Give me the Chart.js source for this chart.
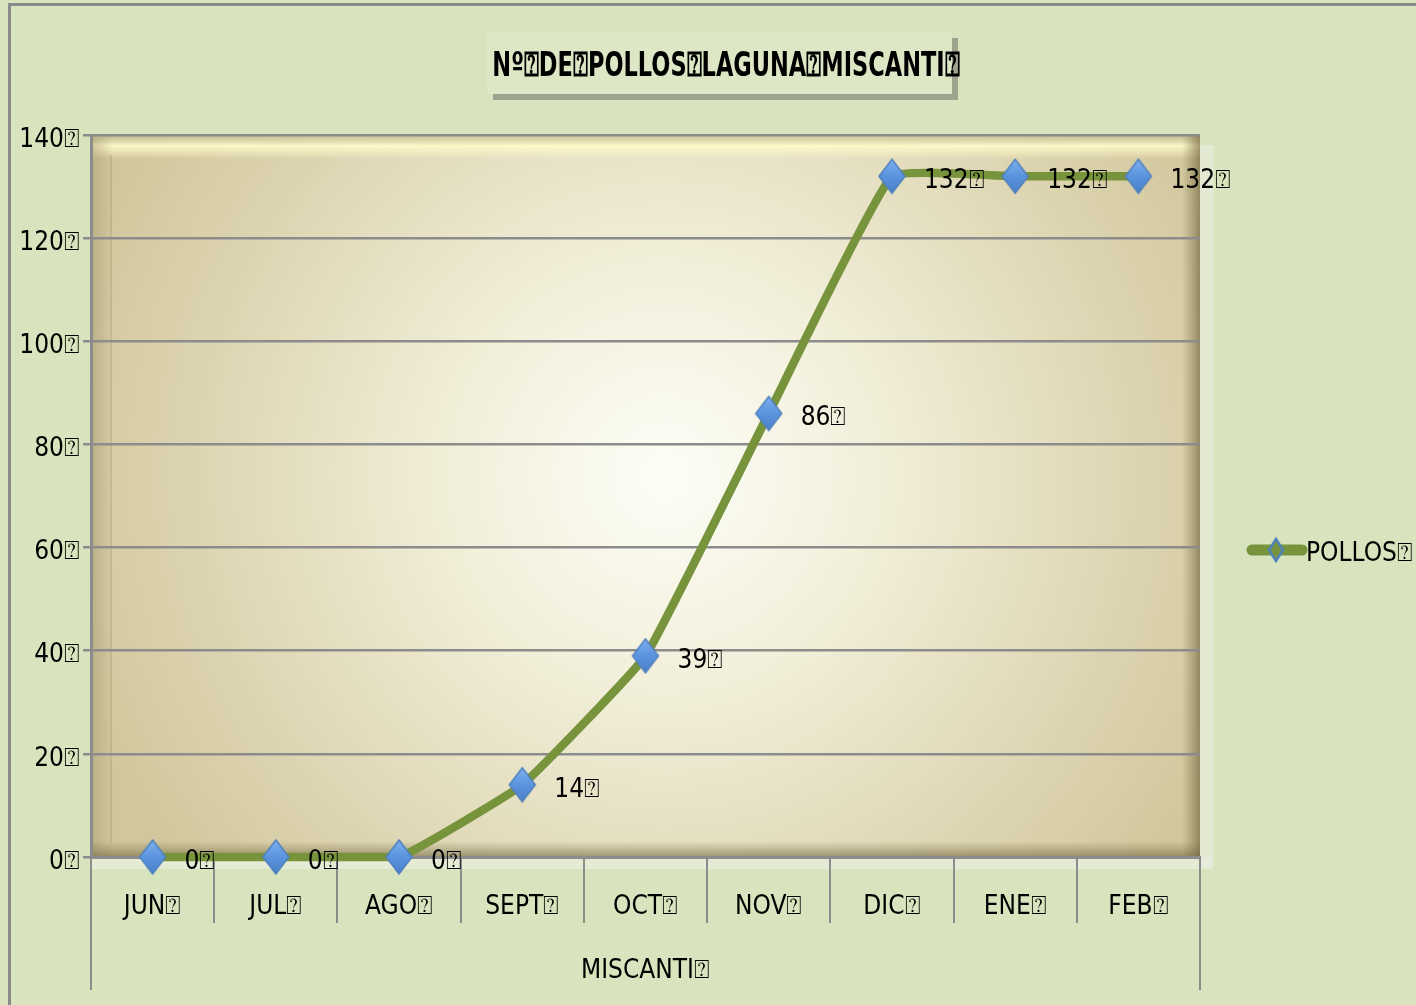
<!DOCTYPE html>
<html>
<head>
<meta charset="utf-8">
<script src="https://cdn.jsdelivr.net/npm/chart.js@4.4.0/dist/chart.umd.min.js"></script>
<style>
  html,body{margin:0;padding:0;background:#d8e4bd;}
  #wrap{width:1416px;height:1005px;position:relative;}
</style>
</head>
<body>
<div id="wrap"><canvas id="c" width="1416" height="1005"></canvas></div>
<script>
const Q = '\u2370';
const categories = ['JUN', 'JUL', 'AGO', 'SEPT', 'OCT', 'NOV', 'DIC', 'ENE', 'FEB'];
const pollos = [0, 0, 0, 14, 39, 86, 132, 132, 132];
const seriesName = 'POLLOS';
const groupLabel = 'MISCANTI';
const chartTitle = ['Nº', 'DE', 'POLLOS', 'LAGUNA', 'MISCANTI', ''];
const yMin = 0, yMax = 140, yStep = 20;

const FONT = '"DejaVu Sans Condensed", "Liberation Sans Narrow", "Open Sans", sans-serif';
const FS = 26;
const BG = '#d8e4bd';
const LINE = '#77933c';
const GRID = '#8c8c8c';

function stretchedText(ctx, text, x, y, sy) {
  ctx.save();
  ctx.translate(x, y);
  ctx.scale(1, sy);
  ctx.fillText(text, 0, 0);
  ctx.restore();
}

// diamond marker image (taller than wide)
function makeDiamond() {
  const w = 30, h = 38;
  const c = document.createElement('canvas');
  c.width = w; c.height = h;
  const g = c.getContext('2d');
  g.beginPath();
  g.moveTo(w/2, 2); g.lineTo(w-2, h/2); g.lineTo(w/2, h-2); g.lineTo(2, h/2); g.closePath();
  const gr = g.createLinearGradient(0, 2, 0, h-2);
  gr.addColorStop(0, '#7fb0ef');
  gr.addColorStop(0.5, '#5b94de');
  gr.addColorStop(1, '#4a7fc8');
  g.fillStyle = gr; g.fill();
  g.strokeStyle = '#4f81bd'; g.lineWidth = 1.5; g.stroke();
  return c;
}
const diamond = makeDiamond();

const bgPlugin = {
  id: 'bg',
  beforeDraw(chart) {
    const ctx = chart.ctx, a = chart.chartArea;
    ctx.save();
    ctx.fillStyle = BG; ctx.fillRect(0, 0, chart.width, chart.height);
    // outer frame
    ctx.strokeStyle = '#8a8a8a'; ctx.lineWidth = 3;
    ctx.beginPath(); ctx.moveTo(9.5, chart.height); ctx.lineTo(9.5, 4.5); ctx.lineTo(chart.width, 4.5); ctx.stroke();
    // plot area radial gradient
    const cx = (a.left + a.right) / 2 + 20, cy = (a.top + a.bottom) / 2 - 20;
    const rg = ctx.createRadialGradient(cx, cy, 10, cx, cy, 620);
    rg.addColorStop(0, '#fdfdf6');
    rg.addColorStop(0.35, '#f1eed8');
    rg.addColorStop(0.75, '#ddd5b2');
    rg.addColorStop(1, '#d2c79c');
    ctx.fillStyle = rg;
    ctx.fillRect(a.left, a.top, a.right - a.left, a.bottom - a.top);
    // bevel: top light band
    let lg = ctx.createLinearGradient(0, a.top, 0, a.top + 24);
    lg.addColorStop(0, 'rgba(190,180,140,0.6)');
    lg.addColorStop(0.45, 'rgba(255,250,200,0.95)');
    lg.addColorStop(1, 'rgba(255,250,200,0)');
    ctx.fillStyle = lg; ctx.fillRect(a.left, a.top, a.right - a.left, 24);
    // left dark band
    lg = ctx.createLinearGradient(a.left, 0, a.left + 22, 0);
    lg.addColorStop(0, 'rgba(160,150,110,0.5)');
    lg.addColorStop(1, 'rgba(160,150,110,0)');
    ctx.fillStyle = lg; ctx.fillRect(a.left, a.top, 22, a.bottom - a.top);
    ctx.strokeStyle = 'rgba(150,140,100,0.35)'; ctx.lineWidth = 1.5;
    ctx.beginPath(); ctx.moveTo(a.left + 20, a.top + 20); ctx.lineTo(a.left + 20, a.bottom - 14); ctx.stroke();
    // right dark band
    lg = ctx.createLinearGradient(a.right - 18, 0, a.right, 0);
    lg.addColorStop(0, 'rgba(120,110,70,0)');
    lg.addColorStop(1, 'rgba(110,100,60,0.65)');
    ctx.fillStyle = lg; ctx.fillRect(a.right - 18, a.top, 18, a.bottom - a.top);
    // bottom dark band
    lg = ctx.createLinearGradient(0, a.bottom - 16, 0, a.bottom);
    lg.addColorStop(0, 'rgba(120,110,70,0)');
    lg.addColorStop(1, 'rgba(110,100,60,0.6)');
    ctx.fillStyle = lg; ctx.fillRect(a.left, a.bottom - 16, a.right - a.left, 16);
    // light floor under plot
    ctx.fillStyle = 'rgba(240,240,230,0.6)';
    ctx.fillRect(a.left, a.bottom, a.right - a.left + 12, 12);
    ctx.fillStyle = 'rgba(235,235,225,0.55)';
    ctx.fillRect(a.right, a.top + 10, 14, a.bottom - a.top);
    ctx.restore();
  },
  afterDraw(chart) {
    const ctx = chart.ctx, a = chart.chartArea;
    ctx.save();
    // group separators (outer long lines)
    ctx.strokeStyle = GRID; ctx.lineWidth = 2;
    ctx.beginPath();
    ctx.moveTo(a.left, a.bottom); ctx.lineTo(a.left, 990);
    ctx.moveTo(a.right, a.bottom); ctx.lineTo(a.right, 990);
    ctx.stroke();
    // data labels
    const meta = chart.getDatasetMeta(0);
    ctx.fillStyle = '#000';
    ctx.font = FS + 'px ' + FONT;
    ctx.textAlign = 'left'; ctx.textBaseline = 'middle';
    meta.data.forEach((p, i) => {
      ctx.fillText(String(pollos[i]) + Q, p.x + 32, p.y + 5);
    });
    // legend
    const ly = 550;
    ctx.strokeStyle = LINE; ctx.lineWidth = 11; ctx.lineCap = 'round';
    ctx.beginPath(); ctx.moveTo(1252, ly); ctx.lineTo(1302, ly); ctx.stroke();
    ctx.lineCap = 'butt';
    ctx.beginPath();
    ctx.moveTo(1276, ly - 11); ctx.lineTo(1283, ly); ctx.lineTo(1276, ly + 11); ctx.lineTo(1269, ly); ctx.closePath();
    ctx.fillStyle = LINE; ctx.fill();
    ctx.strokeStyle = '#4f81bd'; ctx.lineWidth = 2.5; ctx.stroke();
    ctx.fillStyle = '#000';
    ctx.font = FS + 'px ' + FONT;
    ctx.textBaseline = 'middle';
    ctx.fillText(seriesName + Q, 1306, ly + 4);
    // title box
    const tx = 487, ty = 32, tw = 465, th = 62;
    ctx.fillStyle = 'rgba(110,110,100,0.55)';
    ctx.fillRect(tx + 6, ty + 6, tw, th);
    ctx.fillStyle = '#dde7c5';
    ctx.fillRect(tx, ty, tw, th);
    ctx.font = 'bold 25px ' + FONT;
    ctx.textAlign = 'center';
    ctx.fillStyle = '#000';
    stretchedText(ctx, chartTitle.join(Q), 726, 67, 1.35);
    ctx.restore();
  }
};

new Chart(document.getElementById('c'), {
  type: 'line',
  data: {
    labels: categories.map(c => c + Q),
    datasets: [{
      label: seriesName,
      data: pollos,
      borderColor: LINE,
      borderWidth: 8.5,
      tension: 0.1,
      pointStyle: diamond,
      pointRadius: 15,
      pointHoverRadius: 15,
      clip: false
    }]
  },
  options: {
    responsive: false,
    animation: false,
    events: [],
    layout: { padding: { left: 0, top: 135, right: 216, bottom: 0 } },
    plugins: { legend: { display: false }, tooltip: { enabled: false }, title: { display: false } },
    scales: {
      x: {
        offset: true,
        afterFit(s) { s.height = 148; },
        grid: { display: true, drawOnChartArea: false, offset: true, tickLength: 66, color: GRID, lineWidth: 2 },
        border: { display: true, color: GRID, width: 3 },
        ticks: { color: '#000', font: { family: FONT, size: FS }, padding: -31, maxRotation: 0, autoSkip: false },
        title: { display: true, text: groupLabel + Q, color: '#000', font: { family: FONT, size: FS }, padding: { top: 0, bottom: 18 } }
      },
      y: {
        min: yMin, max: yMax,
        afterFit(s) { s.width = 91; },
        grid: { color: GRID, lineWidth: 2.5, tickLength: 8 },
        border: { display: true, color: GRID, width: 3 },
        ticks: { stepSize: yStep, color: '#000', font: { family: FONT, size: FS }, padding: 3, labelOffset: 5, callback: v => v + Q }
      }
    }
  },
  plugins: [bgPlugin]
});
</script>
</body>
</html>
